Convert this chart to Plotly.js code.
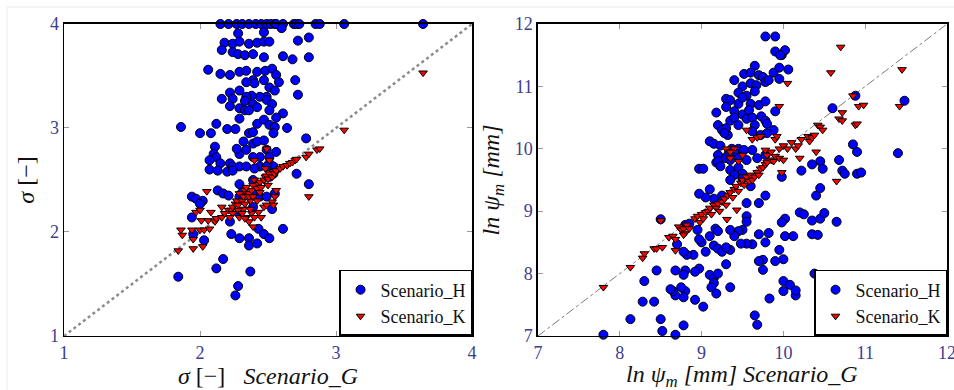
<!DOCTYPE html>
<html>
<head>
<meta charset="utf-8">
<script src="https://cdn.plot.ly/plotly-3.0.1.min.js"></script>
<style>html,body{margin:0;padding:0;background:#fff;}#chart{width:954px;height:390px;}</style>
</head>
<body>
<div id="chart"></div>
<script>
// ---- Data ----
const seriesNames = ["Scenario_H", "Scenario_K"];
const leftTicks = [1, 2, 3, 4];
const rightTicks = [7, 8, 9, 10, 11, 12];
const leftDiag = [1, 4];
const rightDiag = [7, 12];

// Left panel: sigma, Scenario_H (circles)
const leftH = [
[2.15,4],[2.21,4],[2.27,4],[2.31,4],[2.36,4],[2.41,4],[2.45,4],[2.49,4],[2.52,4],[2.55,4],[2.56,4],[2.61,4],[2.69,4],[2.71,4],[2.73,4],[2.85,4],[2.88,4],[3.06,4],[3.64,4],
[2.28,3.91],[2.47,3.92],[2.60,3.96],
[2.18,3.82],[2.24,3.81],[2.29,3.83],[2.36,3.81],[2.42,3.82],[2.47,3.83],[2.51,3.83],[2.72,3.84],[2.80,3.87],
[2.16,3.75],[2.24,3.73],[2.28,3.71],[2.33,3.70],[2.39,3.71],[2.47,3.68],[2.61,3.69],[2.68,3.66],[2.80,3.68],
[2.06,3.56],[2.15,3.52],[2.22,3.51],[2.29,3.54],[2.34,3.55],[2.42,3.54],[2.48,3.55],[2.53,3.57],[2.56,3.51],[2.58,3.44],[2.70,3.46],[2.72,3.32],
[2.39,3.46],[2.34,3.44],[2.40,3.43],[2.47,3.46],[2.51,3.39],[2.55,3.36],[2.49,3.30],[2.44,3.30],[2.38,3.31],[2.34,3.30],[2.29,3.36],[2.22,3.34],[2.16,3.28],[2.24,3.28],[2.33,3.26],[2.39,3.23],[2.49,3.27],[2.53,3.23],[2.61,3.14],
[2.22,3.21],[2.29,3.19],[2.33,3.17],[2.36,3.17],[2.42,3.20],[2.29,3.09],[2.51,3.17],[2.56,3.10],[2.64,3.00],[2.42,3.04],[2.47,3.08],[2.51,3.03],[2.55,3.01],
[1.86,3.01],[2.00,2.95],[2.08,2.95],[2.12,3.04],[2.20,2.99],[2.26,2.99],[2.36,2.95],[2.39,2.96],[2.54,2.95],[2.78,2.90],
[2.11,2.82],[2.10,2.75],[2.12,2.72],[2.07,2.69],[2.15,2.66],[2.22,2.66],[2.24,2.63],[2.29,2.75],[2.34,2.79],[2.39,2.85],[2.42,2.87],[2.47,2.88],[2.49,2.79],[2.51,2.72],[2.56,2.77],[2.44,2.72],[2.39,2.72],[2.29,2.63],[2.27,2.80],[2.32,2.87],[2.51,2.66],[2.54,2.63],[2.44,2.63],
[2.07,2.60],[2.13,2.59],[2.20,2.58],[2.24,2.59],[2.34,2.63],[2.40,2.61],[2.49,2.63],[2.71,2.56],[2.29,2.46],[2.39,2.50],[2.51,2.53],[2.54,2.56],
[2.80,2.46],
[1.94,2.34],[1.97,2.32],[2.02,2.30],[2.00,2.27],[2.13,2.40],[2.17,2.37],[2.21,2.35],[2.29,2.34],[2.31,2.38],[2.39,2.37],[2.44,2.34],[2.49,2.34],[2.55,2.37],
[1.94,2.14],[1.95,1.98],[2.03,1.92],[2.23,1.98],[2.29,1.94],[2.36,1.94],[2.36,1.87],[2.43,2.03],[2.47,1.98],[2.42,1.89],[2.51,1.94],[2.61,2.03],
[2.22,2.10],[2.29,2.18],[2.39,2.24],[2.53,2.22],
[1.84,1.57],[2.12,1.65],[2.17,1.74],[2.37,1.62],[2.28,1.48],[2.26,1.39]
];

// Left panel: sigma, Scenario_K (triangles)
const leftK = [
[1.84,1.82],[1.86,2.02],[1.87,1.97],[1.94,2.02],[1.95,1.93],[1.95,1.84],[2.00,2.02],[2.02,1.86],[2.03,2.02],[2.05,2.39],
[1.97,2.19],[2.00,2.21],[2.01,2.11],[2.06,2.11],[2.07,2.03],[2.08,2.19],[2.11,2.10],[2.12,2.13],[2.16,2.24],[2.16,2.14],[2.18,2.18],
[2.21,2.21],[2.23,2.21],[2.24,2.24],[2.26,2.27],[2.27,2.30],[2.28,2.26],[2.29,2.37],[2.31,2.30],[2.32,2.34],[2.33,2.40],[2.34,2.43],
[2.36,2.37],[2.37,2.30],[2.38,2.40],[2.39,2.45],[2.40,2.50],[2.42,2.42],[2.43,2.46],[2.44,2.48],[2.45,2.43],[2.47,2.50],[2.48,2.53],
[2.49,2.54],[2.50,2.51],[2.51,2.56],[2.53,2.53],[2.54,2.58],[2.55,2.56],[2.56,2.59],[2.59,2.61],[2.61,2.63],[2.64,2.64],[2.66,2.66],
[2.68,2.67],[2.70,2.69],[2.71,2.70],
[2.32,2.22],[2.34,2.14],[2.36,2.10],[2.38,2.18],[2.40,2.14],[2.43,2.19],[2.45,2.14],[2.47,2.24],[2.49,2.26],[2.53,2.29],[2.54,2.26],
[2.55,2.34],[2.56,2.40],[2.39,2.05],[2.33,2.27],[2.37,2.22],
[2.49,2.80],[2.51,2.69],[2.40,2.69],[2.48,2.61],
[2.78,2.72],[2.80,2.75],[2.86,2.79],[2.88,2.80],[2.80,2.34],[3.06,2.98],[3.64,3.53],
[2.24,2.18],[2.28,2.21],[2.22,2.14],[2.36,2.34],[2.39,2.34],[2.42,2.30],[2.44,2.38],[2.50,2.45],[2.29,2.14],[2.33,2.13],[2.31,2.18]
];

// Right panel: ln psi_m, Scenario_H (circles)
const rightH = [
[9.78,11.8],[9.9,11.8],[9.9,11.56],[9.98,11.5],[10.02,11.58],[9.96,11.5],
[9.65,11.33],[9.52,11.2],[9.6,11.22],[9.7,11.18],[9.75,11.15],[9.4,11.1],[9.88,11.22],[9.95,11.3],[10.06,11.27],[9.95,11.12],
[9.5,11.0],[9.6,11.05],[9.67,11.02],[9.45,10.9],[9.55,10.85],[9.65,10.92],[9.78,11.07],[9.82,11.1],
[9.3,10.8],[9.35,10.78],[9.45,10.72],[9.5,10.82],[9.6,10.72],[9.7,10.7],[9.78,10.76],[9.3,10.67],[9.4,10.6],[9.5,10.55],[9.58,10.62],[9.9,10.6],
[9.18,10.58],[9.35,10.45],[9.4,10.5],[9.55,10.48],[9.62,10.5],[9.73,10.52],[9.78,10.45],[9.45,10.38],[9.65,10.38],[9.8,10.4],[9.88,10.3],[9.62,10.28],[9.72,10.22],
[9.2,10.38],[9.25,10.3],[9.3,10.33],[9.32,10.22],[9.28,10.25],[9.1,10.12],[9.15,10.08],[9.23,10.05],[9.37,10.0],[9.45,10.0],[9.52,9.98],[9.4,9.95],
[9.33,9.92],[9.28,9.85],[9.35,9.82],[9.18,9.78],[9.2,9.9],[9.45,9.85],[9.55,9.82],[9.68,9.85],[9.78,9.9],[9.8,10.25],[9.62,9.98],
[8.97,9.68],[9.02,9.68],[9.2,9.8],[9.23,9.72],[9.35,9.66],[9.45,9.7],[9.5,9.6],[9.4,9.58],[9.1,9.35],[9.15,9.2],[9.25,9.25],[9.05,9.22],[8.97,9.28],[9.5,9.52],[9.6,9.4],[9.35,9.5],
[9.98,9.55],[10.22,9.65],
[10.35,9.75],[10.45,9.8],[10.48,9.68],[10.68,9.82],[10.72,9.65],[10.75,9.6],[10.85,10.07],[10.9,9.95],[10.9,9.6],[10.95,9.62],[11.4,9.93],[11.48,10.77],[10.88,10.85],[10.6,10.65],
[10.4,9.25],[10.45,9.37],[10.2,8.98],[10.25,8.95],[10.35,8.85],[10.45,8.88],[10.5,8.97],[10.65,8.83],[10.02,8.88],[9.98,8.82],[10.02,8.6],[10.12,8.6],[10.35,8.63],[10.42,8.62],[10.38,8.0],
[10.0,8.23],[9.95,8.38],[9.9,8.2],[9.78,8.5],[9.7,8.63],[9.82,8.65],[9.75,8.22],[9.7,8.2],[9.75,8.06],[9.62,8.47],[9.55,8.48],[9.5,8.7],[9.45,8.68],[9.4,8.6],[9.35,8.7],[9.48,8.48],[9.35,8.38],[9.55,8.92],[9.55,8.83],[9.55,9.13],[9.7,9.13],[9.78,9.25],
[10.0,7.88],[10.08,7.82],[10.15,7.65],[10.15,7.73],[10.0,7.72],[9.83,7.6],[9.65,7.33],[9.68,7.18],[9.35,7.78],[9.3,8.15],
[9.15,8.45],[9.2,8.4],[9.25,8.35],[9.3,8.42],[9.17,8.72],[9.2,8.68],[9.1,8.6],[9.05,8.35],[9.0,8.5],[8.97,8.55],[8.95,8.7],[8.9,8.3],[8.97,8.08],[8.92,8.03],
[9.1,7.98],[9.15,7.93],[9.2,8.0],[9.15,7.85],[9.12,7.78],[9.18,7.68],[9.02,7.47],[8.92,7.58],[8.8,7.72],[8.75,7.78],[8.78,7.62],[8.68,7.65],[8.65,7.72],[8.62,7.75],
[8.8,8.05],[8.78,7.98],[8.68,8.05],[8.82,8.3],[8.78,8.35],[8.8,8.78],[8.85,8.8],[8.7,8.47],[8.45,8.05],[8.3,7.88],[8.28,7.55],[8.42,7.55],[8.13,7.27],[8.5,7.27],
[8.52,7.08],[8.68,7.02],[8.78,7.17],[7.8,7.02],[8.5,8.87]
];

// Right panel: ln psi_m, Scenario_K (triangles)
const rightK = [
[7.8,7.78],[8.13,8.1],[8.28,8.25],[8.3,8.32],[8.42,8.4],[8.45,8.4],[8.52,8.42],[8.5,8.85],[8.6,8.58],[8.65,8.6],[8.68,8.55],[8.68,8.37],
[8.72,8.75],[8.75,8.7],[8.78,8.72],[8.8,8.65],[8.82,8.78],[8.85,8.72],[8.78,8.62],
[8.92,8.88],[8.95,8.92],[8.98,8.82],[9.0,8.95],[9.02,8.88],[9.05,8.98],[9.08,9.0],[9.1,9.05],[9.12,8.95],[9.15,9.1],[9.18,9.05],[9.2,9.12],
[9.22,9.0],[9.25,9.15],[9.28,9.2],[9.3,9.1],[9.32,9.25],[9.35,9.3],[9.38,9.22],[9.4,9.35],[9.42,9.4],[9.45,9.32],[9.48,9.45],[9.5,9.5],
[9.52,9.42],[9.55,9.55],[9.58,9.48],[9.6,9.58],[9.62,9.5],[9.65,9.55],[9.68,9.62],[9.7,9.58],[9.72,9.68],[9.75,9.7],[9.78,9.75],[9.8,9.78],
[9.85,9.82],[9.88,9.8],[9.9,9.88],[9.95,9.85],[10.0,9.82],[9.31,8.87],[9.43,9.02],
[9.4,10.0],[9.35,9.85],[9.45,9.8],[9.5,9.9],[9.55,10.3],[9.62,10.15],[9.68,10.18],[9.72,10.2],[9.78,9.98],[9.8,9.9],[9.85,9.95],[9.9,10.15],
[9.92,10.2],[9.95,10.0],[10.0,10.05],[10.05,10.0],[10.1,10.1],[10.15,10.0],[10.18,10.05],[10.2,9.85],[10.22,10.15],[10.3,10.2],[10.32,10.12],
[10.35,10.18],[10.38,10.22],[10.42,10.38],[10.45,10.35],[10.48,10.3],[10.4,9.95],[10.65,9.48],[10.68,10.48],[10.72,10.45],[10.72,10.58],
[10.85,10.85],[10.88,10.38],[10.9,10.4],[10.92,10.68],[10.98,10.7],[10.05,11.05],[9.95,10.68],[9.3,10.0],[9.35,9.95],
[10.58,11.22],[10.7,11.63],[11.45,11.27],[11.42,10.68],[9.98,9.62]
];

// ---- Build traces ----
const xs = a => a.map(p => p[0]);
const ys = a => a.map(p => p[1]);
const serif = 'Liberation Serif';
const tickColor = '#3d3d8f';

const circ = {symbol: 'circle', size: 9, color: '#0000ff', line: {color: '#000', width: 1}};
const tri = {symbol: 'triangle-down', size: 7.5, color: '#ff0000', line: {color: '#000', width: 1}};

const traces = [
  {x: leftDiag, y: leftDiag, xaxis: 'x', yaxis: 'y', mode: 'lines', showlegend: false, hoverinfo: 'skip',
   line: {color: '#8c8c8c', width: 2.5, dash: 'dot'}},
  {x: rightDiag, y: rightDiag, xaxis: 'x2', yaxis: 'y2', mode: 'lines', showlegend: false, hoverinfo: 'skip',
   line: {color: '#7a7a7a', width: 1, dash: 'dashdot'}},
  {x: xs(leftH), y: ys(leftH), xaxis: 'x', yaxis: 'y', mode: 'markers', name: seriesNames[0], marker: circ, cliponaxis: false, legend: 'legend'},
  {x: xs(leftK), y: ys(leftK), xaxis: 'x', yaxis: 'y', mode: 'markers', name: seriesNames[1], marker: tri, cliponaxis: false, legend: 'legend'},
  {x: xs(rightH), y: ys(rightH), xaxis: 'x2', yaxis: 'y2', mode: 'markers', name: seriesNames[0], marker: circ, cliponaxis: false, legend: 'legend2'},
  {x: xs(rightK), y: ys(rightK), xaxis: 'x2', yaxis: 'y2', mode: 'markers', name: seriesNames[1], marker: tri, cliponaxis: false, legend: 'legend2'}
];

const yDom = [0.1385, 0.9385];
const titleFont = {family: serif, size: 24, color: '#111'};
const axisBase = {
  showgrid: false, zeroline: false, showline: true, linecolor: '#000', linewidth: 1.5,
  mirror: 'allticks', ticks: 'inside', ticklen: 5, tickwidth: 1, tickcolor: '#9a9a9a',
  tickfont: {family: serif, size: 18, color: tickColor}, ticklabeloverflow: 'allow', fixedrange: true
};
const legendBase = {
  yanchor: 'bottom', xanchor: 'right', bgcolor: '#fff', bordercolor: '#000', borderwidth: 1.5,
  font: {family: serif, size: 18, color: '#111'}, itemwidth: 30, tracegroupgap: 0, traceorder: 'normal'
};

const layout = {
  width: 954, height: 390, margin: {l: 0, r: 0, t: 0, b: 0},
  font: {family: serif, color: '#111'},
  paper_bgcolor: '#fff', plot_bgcolor: '#fff', showlegend: true,
  xaxis: Object.assign({}, axisBase, {domain: [0.0671, 0.4948], range: [1, 4], tickvals: leftTicks, anchor: 'y',
    title: {text: '<i>σ</i> [−] &nbsp; <i>Scenario_G</i>', font: titleFont, standoff: 1}}),
  yaxis: Object.assign({}, axisBase, {domain: yDom, range: [1, 4], tickvals: leftTicks, anchor: 'x',
    title: {text: '<i>σ</i> [−]', font: titleFont, standoff: 8}}),
  xaxis2: Object.assign({}, axisBase, {domain: [0.5639, 0.9927], range: [7, 12], tickvals: rightTicks, anchor: 'y2'}),
  yaxis2: Object.assign({}, axisBase, {domain: yDom, range: [7, 12], tickvals: rightTicks, anchor: 'x2',
    title: {text: '<i>ln ψ<sub>m</sub> [mm]</i>', font: titleFont, standoff: 8}}),
  legend: Object.assign({}, legendBase, {x: 0.4948, y: 0.1385}),
  legend2: Object.assign({}, legendBase, {x: 0.9927, y: 0.1385}),
  annotations: [
    {xref: 'paper', yref: 'paper', x: 0.7783, y: 0.036, xanchor: 'center', yanchor: 'middle', showarrow: false,
     text: '<i>ln ψ<sub>m</sub> [mm] Scenario_G</i>', font: titleFont}
  ],
  shapes: [
    {type: 'line', xref: 'paper', yref: 'paper', x0: 7/954, x1: 1, y0: 383/390, y1: 383/390, line: {color: '#e6e6e6', width: 1}},
    {type: 'line', xref: 'paper', yref: 'paper', x0: 7/954, x1: 7/954, y0: 0, y1: 383/390, line: {color: '#ececec', width: 1}}
  ]
};

Plotly.newPlot('chart', traces, layout, {staticPlot: true, displayModeBar: false});
</script>
</body>
</html>
